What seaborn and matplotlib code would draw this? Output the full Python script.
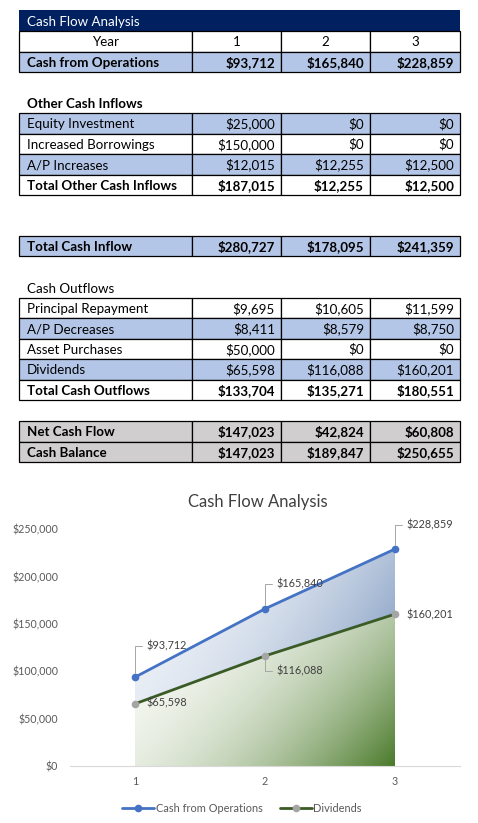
import numpy as np
import pandas as pd
import matplotlib
matplotlib.use("Agg")
import matplotlib.pyplot as plt
import seaborn as sns
from matplotlib.patches import Rectangle
from matplotlib.colors import to_rgb
from matplotlib.ticker import FuncFormatter

sns.set_style("white")
plt.rcParams['font.family'] = ['Lato', 'DejaVu Sans']

# ---------------- data ----------------
years = [1, 2, 3]
year_labels = ["1", "2", "3"]
cash_from_operations = [93712, 165840, 228859]
equity_investment = [25000, 0, 0]
increased_borrowings = [150000, 0, 0]
ap_increases = [12015, 12255, 12500]
total_other_inflows = [187015, 12255, 12500]
total_cash_inflow = [280727, 178095, 241359]
principal_repayment = [9695, 10605, 11599]
ap_decreases = [8411, 8579, 8750]
asset_purchases = [50000, 0, 0]
dividends = [65598, 116088, 160201]
total_cash_outflows = [133704, 135271, 180551]
net_cash_flow = [147023, 42824, 60808]
cash_balance = [147023, 189847, 250655]
y_ticks = [0, 50000, 100000, 150000, 200000, 250000]

def money(v):
    return "${:,.0f}".format(v)

# ---------------- figure ----------------
W, H = 478, 823
fig = plt.figure(figsize=(W / 100, H / 100), dpi=100)
fig.patch.set_facecolor("white")

tab = fig.add_axes([0, 0, 1, 1])
tab.set_xlim(0, W)
tab.set_ylim(H, 0)
tab.axis("off")

BLUE = "#b4c6e7"
GRAY = "#d0cece"
NAVY = "#002060"
xs = [19, 192, 281, 370, 460]
RH = 20.5
FS = 9.6
LW = 0.9

def table_row(top, label, vals, bold=False, fill="white", center=False):
    for i in range(4):
        tab.add_patch(Rectangle((xs[i], top), xs[i + 1] - xs[i], RH,
                                facecolor=fill, edgecolor="black", lw=LW, zorder=1))
    fw = "bold" if bold else "normal"
    yb = top + RH - 5.3
    if center:
        tab.text((xs[0] + xs[1]) / 2, yb, label, ha="center", va="baseline",
                 fontsize=FS, fontweight=fw, color="black")
    else:
        tab.text(27, yb, label, ha="left", va="baseline", fontsize=FS,
                 fontweight=fw, color="black")
    for i, v in enumerate(vals):
        if center:
            tab.text((xs[i + 1] + xs[i + 2]) / 2, yb, v, ha="center", va="baseline",
                     fontsize=FS, fontweight=fw, color="black")
        else:
            tab.text(xs[i + 2] - 6, yb, money(v), ha="right", va="baseline",
                     fontsize=FS, fontweight=fw, color="black")

# title bar
tab.add_patch(Rectangle((xs[0], 10), xs[-1] - xs[0], 21, facecolor=NAVY,
                        edgecolor="none", zorder=1))
tab.text(27, 26, "Cash Flow Analysis", ha="left", va="baseline", fontsize=FS,
         color="white")

table_row(31, "Year", year_labels, center=True)
table_row(51.5, "Cash from Operations", cash_from_operations, bold=True, fill=BLUE)

tab.text(27, 107.5, "Other Cash Inflows", ha="left", va="baseline", fontsize=FS,
         fontweight="bold", color="black")
table_row(113, "Equity Investment", equity_investment, fill=BLUE)
table_row(133.5, "Increased Borrowings", increased_borrowings)
table_row(154, "A/P Increases", ap_increases, fill=BLUE)
table_row(174.5, "Total Other Cash Inflows", total_other_inflows, bold=True)

table_row(235.5, "Total Cash Inflow", total_cash_inflow, bold=True, fill=BLUE)

tab.text(27, 292.7, "Cash Outflows", ha="left", va="baseline", fontsize=FS,
         color="black")
table_row(297.5, "Principal Repayment", principal_repayment)
table_row(318, "A/P Decreases", ap_decreases, fill=BLUE)
table_row(338.5, "Asset Purchases", asset_purchases)
table_row(359, "Dividends", dividends, fill=BLUE)
table_row(379.5, "Total Cash Outflows", total_cash_outflows, bold=True)

table_row(421, "Net Cash Flow", net_cash_flow, bold=True, fill=GRAY)
table_row(441.5, "Cash Balance", cash_balance, bold=True, fill=GRAY)

# ---------------- chart ----------------
ax = fig.add_axes([70 / W, 57 / H, 390 / W, 237 / H])
ax.set_facecolor("none")

def gradient_fill(ax, x, y, c0, c1, z, p=2.2):
    poly = ax.fill_between(x, y, 0, color="none", lw=0)
    n = 300
    U, V = np.meshgrid(np.linspace(0, 1, n), np.linspace(0, 1, n))
    t = (0.65 * U + 0.35 * V) ** p
    a, b = np.array(to_rgb(c0)), np.array(to_rgb(c1))
    img = (1 - t)[..., None] * a + t[..., None] * b
    im = ax.imshow(img, extent=[min(x), max(x), 0, max(y)], origin="upper",
                   aspect="auto", zorder=z, interpolation="bilinear")
    im.set_clip_path(poly.get_paths()[0], transform=ax.transData)

gradient_fill(ax, years, cash_from_operations, "#eef2f8", "#4f74a8", 1)
gradient_fill(ax, years, dividends, "#f7f9f4", "#4a7a2a", 2)

df = pd.DataFrame({"Year": years,
                   "Cash from Operations": cash_from_operations,
                   "Dividends": dividends})
sns.lineplot(data=df, x="Year", y="Cash from Operations", ax=ax, color="#4472c4",
             lw=2.0, marker="o", markersize=5.5, markeredgewidth=0, zorder=5,
             label="Cash from Operations")
sns.lineplot(data=df, x="Year", y="Dividends", ax=ax, color="#3b5b26",
             lw=2.0, marker="o", markersize=5.5, markeredgewidth=0, zorder=4,
             label="Dividends")
l_ops, l_div = ax.lines[-2], ax.lines[-1]
l_ops.set_markerfacecolor("#4472c4")
l_div.set_markerfacecolor("#a5a5a5")
l_div.set_markeredgecolor("#a5a5a5")
if ax.get_legend() is not None:
    ax.get_legend().remove()

ax.set_xlim(0.5, 3.5)
ax.set_ylim(0, 250000)
ax.set_xticks(years)
ax.set_xticklabels(year_labels)
ax.set_yticks(y_ticks)
ax.yaxis.set_major_formatter(FuncFormatter(lambda v, p: money(v)))
ax.set_xlabel("")
ax.set_ylabel("")
ax.grid(False)
for s in ["left", "right", "top"]:
    ax.spines[s].set_visible(False)
ax.spines["bottom"].set_color("#d9d9d9")
ax.spines["bottom"].set_linewidth(0.8)
ax.tick_params(axis="both", length=0, labelsize=7.7, labelcolor="#595959")
ax.tick_params(axis="y", pad=8.5)
ax.tick_params(axis="x", pad=7.5)

# data labels
LBL = "#404040"
lead = dict(arrowstyle="-", color="#a6a6a6", lw=0.7,
            connectionstyle="angle,angleA=0,angleB=90,rad=0",
            relpos=(0, 0.5), shrinkA=1, shrinkB=3)
ops_off = [(8.6, 22.3), (8.6, 18.0), (8.6, 17.3)]
div_off = [(8.6, 0.7), (8.6, -10.8), (8.6, -0.7)]
div_lead = [False, True, False]
for x, v, off in zip(years, cash_from_operations, ops_off):
    ax.annotate(money(v), (x, v), xytext=off, textcoords="offset points",
                ha="left", va="center", fontsize=7.8, color=LBL, zorder=6,
                arrowprops=lead, annotation_clip=False)
for x, v, off, ld in zip(years, dividends, div_off, div_lead):
    ax.annotate(money(v), (x, v), xytext=off, textcoords="offset points",
                ha="left", va="center", fontsize=7.8, color=LBL, zorder=6,
                arrowprops=lead if ld else None, annotation_clip=False)

fig.text(258 / W, 1 - 502 / H, "Cash Flow Analysis", ha="center", va="center",
         fontsize=12, color="#404040")

fig.legend(handles=[l_ops, l_div], labels=["Cash from Operations", "Dividends"],
           loc="center", bbox_to_anchor=(242 / W, 1 - 808 / H), ncol=2,
           frameon=False, fontsize=7.9, handlelength=2.9, handletextpad=0.15,
           columnspacing=1.6, labelcolor="#595959")

fig.savefig("out.png", dpi=100, facecolor="white")
